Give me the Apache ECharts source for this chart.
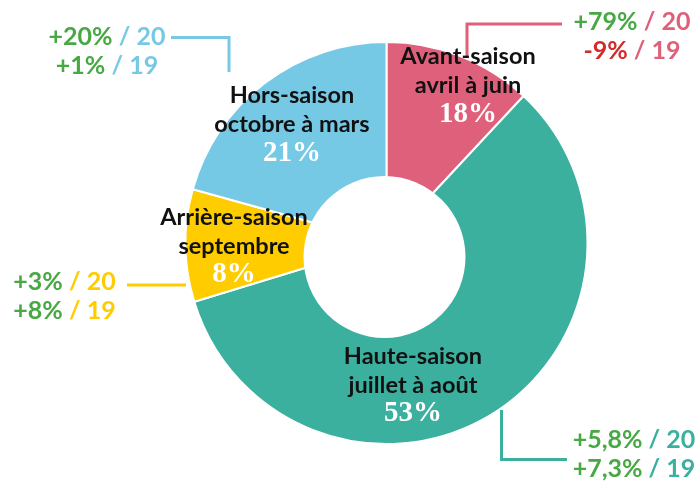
<!DOCTYPE html>
<html>
<head>
<meta charset="utf-8">
<script src="https://cdn.jsdelivr.net/npm/echarts@6/dist/echarts.min.js"></script>
<style>html,body{margin:0;padding:0;background:#fff;}#chart{width:700px;height:481px;}</style>
</head>
<body>
<div id="chart"></div>
<script>
// ---- data ----
const categories = ['Avant-saison', 'Haute-saison', 'Arrière-saison', 'Hors-saison'];
const periods = ['avril à juin', 'juillet à août', 'septembre', 'octobre à mars'];
const shares = [18, 53, 8, 21];                 // printed shares (%)
const sliceAngles = [43, 210, 32.5, 74.5];      // slice sizes as drawn in the picture (degrees)
const change20 = ['+79%', '+5,8%', '+3%', '+20%'];
const change19 = ['-9%', '+7,3%', '+8%', '+1%'];
const years = ['20', '19'];

// ---- styles / layout ----
const colors = ['#df607a', '#3bb09f', '#ffcc00', '#76c9e5'];
const GREEN = '#48a944', RED = '#d42a2a';
const FONT = 'Lato';
const donutCenter = [386.5, 243], donutR = 201;
const holeCenter = [384.5, 257], holeR = 81;
const labelPos = [[468, 85.5], [413, 385], [234, 246], [292, 124.7]];
const notePos = [[632, 36, 'center'], [634, 454, 'center'], [64.5, 296, 'center'], [107, 51, 'center']];
const connectors = [
  [[562, 24], [467, 24], [467, 56]],
  [[501.5, 410], [501.5, 459.5], [567, 459.5]],
  [[127, 285], [186, 285]],
  [[171, 37.5], [229, 37.5], [229, 72]]
];

const chart = echarts.init(document.getElementById('chart'), null, {renderer: 'canvas'});
const graphics = [];
categories.forEach((c, i) => {
  graphics.push({
    type: 'polyline', z: 50, silent: true,
    shape: {points: connectors[i]},
    style: {stroke: colors[i], lineWidth: 3, fill: null}
  });
});
categories.forEach((c, i) => {
  graphics.push({
    type: 'text', z: 100, silent: true,
    x: labelPos[i][0], y: labelPos[i][1],
    style: {
      text: '{n|' + c + '}\n{n|' + periods[i] + '}\n{p|' + shares[i] + '%}',
      align: 'center', verticalAlign: 'middle',
      rich: {
        n: {fontFamily: FONT, fontWeight: 'bold', fontSize: 23.5, fill: '#111', lineHeight: 29, align: 'center'},
        p: {fontFamily: 'Liberation Serif', fontWeight: 'bold', fontSize: 29, fill: '#fff', lineHeight: 29, align: 'center'}
      }
    }
  });
  const col = (v) => v.charAt(0) === '-' ? 'r' : 'g';
  graphics.push({
    type: 'text', z: 100, silent: true,
    x: notePos[i][0], y: notePos[i][1],
    style: {
      text: '{' + col(change20[i]) + '|' + change20[i] + '}{c| / ' + years[0] + '}\n{' + col(change19[i]) + '|' + change19[i] + '}{c| / ' + years[1] + '}',
      align: notePos[i][2], verticalAlign: 'middle',
      rich: {
        g: {fontFamily: FONT, fontWeight: 'bold', fontSize: 25, fill: GREEN, lineHeight: 29},
        r: {fontFamily: FONT, fontWeight: 'bold', fontSize: 25, fill: RED, lineHeight: 29},
        c: {fontFamily: FONT, fontWeight: 'bold', fontSize: 25, fill: colors[i], lineHeight: 29}
      }
    }
  });
});

chart.setOption({
  animation: false,
  series: [
    {
      type: 'pie', z: 2, silent: true,
      center: donutCenter, radius: [0, donutR],
      startAngle: 90, clockwise: true,
      label: {show: false}, labelLine: {show: false},
      itemStyle: {borderColor: '#fff', borderWidth: 2},
      data: categories.map((c, i) => ({name: c, value: sliceAngles[i], itemStyle: {color: colors[i]}}))
    },
    {
      type: 'pie', z: 3, silent: true,
      center: holeCenter, radius: [0, holeR],
      label: {show: false}, labelLine: {show: false},
      itemStyle: {color: '#fff'},
      data: [{name: 'hole', value: 1}]
    }
  ],
  graphic: graphics
});
</script>
</body>
</html>
